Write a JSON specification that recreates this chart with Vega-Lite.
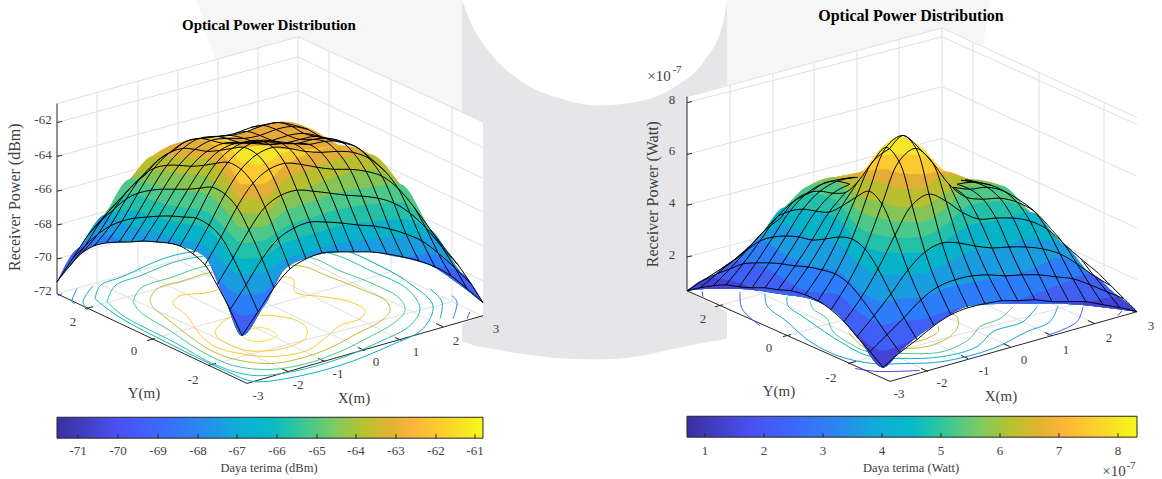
{"$schema":"https://vega.github.io/schema/vega-lite/v6.json","width":1162,"height":479,"autosize":{"type":"fit","contains":"padding"},"padding":0,"background":"white","config":{"view":{"stroke":null}},
"datasets":{
"meshL":[
{"i":0,"j":0,"x":242,"y":337},{"i":0,"j":1,"x":230,"y":311},{"i":0,"j":2,"x":217,"y":286},{"i":0,"j":3,"x":205,"y":266},{"i":0,"j":4,"x":193,"y":255},{"i":0,"j":5,"x":180,"y":247},{"i":0,"j":6,"x":168,"y":244},{"i":0,"j":7,"x":156,"y":243},{"i":0,"j":8,"x":143,"y":242},{"i":0,"j":9,"x":131,"y":243},{"i":0,"j":10,"x":119,"y":243},{"i":0,"j":11,"x":106,"y":244},{"i":0,"j":12,"x":94,"y":247},{"i":0,"j":13,"x":82,"y":254},{"i":0,"j":14,"x":69,"y":268},{"i":0,"j":15,"x":57,"y":283},
{"i":1,"j":0,"x":258,"y":313},{"i":1,"j":1,"x":246,"y":286},{"i":1,"j":2,"x":233,"y":259},{"i":1,"j":3,"x":221,"y":238},{"i":1,"j":4,"x":209,"y":226},{"i":1,"j":5,"x":196,"y":219},{"i":1,"j":6,"x":184,"y":218},{"i":1,"j":7,"x":172,"y":217},{"i":1,"j":8,"x":159,"y":217},{"i":1,"j":9,"x":147,"y":218},{"i":1,"j":10,"x":135,"y":219},{"i":1,"j":11,"x":122,"y":222},{"i":1,"j":12,"x":110,"y":227},{"i":1,"j":13,"x":98,"y":235},{"i":1,"j":14,"x":85,"y":247},{"i":1,"j":15,"x":73,"y":259},
{"i":2,"j":0,"x":274,"y":289},{"i":2,"j":1,"x":262,"y":260},{"i":2,"j":2,"x":249,"y":231},{"i":2,"j":3,"x":237,"y":208},{"i":2,"j":4,"x":225,"y":195},{"i":2,"j":5,"x":212,"y":188},{"i":2,"j":6,"x":200,"y":189},{"i":2,"j":7,"x":188,"y":190},{"i":2,"j":8,"x":175,"y":190},{"i":2,"j":9,"x":163,"y":190},{"i":2,"j":10,"x":151,"y":191},{"i":2,"j":11,"x":138,"y":194},{"i":2,"j":12,"x":126,"y":200},{"i":2,"j":13,"x":114,"y":210},{"i":2,"j":14,"x":101,"y":222},{"i":2,"j":15,"x":89,"y":235},
{"i":3,"j":0,"x":290,"y":270},{"i":3,"j":1,"x":278,"y":240},{"i":3,"j":2,"x":265,"y":208},{"i":3,"j":3,"x":253,"y":184},{"i":3,"j":4,"x":241,"y":170},{"i":3,"j":5,"x":228,"y":163},{"i":3,"j":6,"x":216,"y":164},{"i":3,"j":7,"x":204,"y":166},{"i":3,"j":8,"x":191,"y":167},{"i":3,"j":9,"x":179,"y":166},{"i":3,"j":10,"x":167,"y":166},{"i":3,"j":11,"x":154,"y":169},{"i":3,"j":12,"x":142,"y":177},{"i":3,"j":13,"x":130,"y":189},{"i":3,"j":14,"x":117,"y":203},{"i":3,"j":15,"x":105,"y":216},
{"i":4,"j":0,"x":306,"y":260},{"i":4,"j":1,"x":294,"y":229},{"i":4,"j":2,"x":281,"y":196},{"i":4,"j":3,"x":269,"y":170},{"i":4,"j":4,"x":257,"y":155},{"i":4,"j":5,"x":244,"y":148},{"i":4,"j":6,"x":232,"y":149},{"i":4,"j":7,"x":220,"y":151},{"i":4,"j":8,"x":207,"y":152},{"i":4,"j":9,"x":195,"y":150},{"i":4,"j":10,"x":183,"y":149},{"i":4,"j":11,"x":170,"y":153},{"i":4,"j":12,"x":158,"y":161},{"i":4,"j":13,"x":146,"y":175},
{"i":5,"j":0,"x":322,"y":254},{"i":5,"j":1,"x":310,"y":223},{"i":5,"j":2,"x":297,"y":191},{"i":5,"j":3,"x":285,"y":164},{"i":5,"j":4,"x":273,"y":148},{"i":5,"j":5,"x":260,"y":141},{"i":5,"j":6,"x":248,"y":142},{"i":5,"j":7,"x":236,"y":144},{"i":5,"j":8,"x":223,"y":144},{"i":5,"j":9,"x":211,"y":141},{"i":5,"j":10,"x":199,"y":139},{"i":5,"j":11,"x":186,"y":142},{"i":5,"j":12,"x":174,"y":151},
{"i":6,"j":0,"x":338,"y":253},{"i":6,"j":1,"x":326,"y":223},{"i":6,"j":2,"x":313,"y":192},{"i":6,"j":3,"x":301,"y":165},{"i":6,"j":4,"x":289,"y":149},{"i":6,"j":5,"x":276,"y":142},{"i":6,"j":6,"x":264,"y":142},{"i":6,"j":7,"x":252,"y":144},{"i":6,"j":8,"x":239,"y":143},{"i":6,"j":9,"x":227,"y":139},{"i":6,"j":10,"x":215,"y":137},{"i":6,"j":11,"x":202,"y":139},
{"i":7,"j":0,"x":354,"y":253},{"i":7,"j":1,"x":342,"y":224},{"i":7,"j":2,"x":330,"y":194},{"i":7,"j":3,"x":317,"y":168},{"i":7,"j":4,"x":305,"y":152},{"i":7,"j":5,"x":293,"y":144},{"i":7,"j":6,"x":281,"y":144},{"i":7,"j":7,"x":268,"y":145},{"i":7,"j":8,"x":256,"y":143},{"i":7,"j":9,"x":244,"y":139},{"i":7,"j":10,"x":231,"y":136},{"i":7,"j":11,"x":219,"y":137},
{"i":8,"j":0,"x":371,"y":253},{"i":8,"j":1,"x":358,"y":226},{"i":8,"j":2,"x":346,"y":196},{"i":8,"j":3,"x":334,"y":170},{"i":8,"j":4,"x":321,"y":153},{"i":8,"j":5,"x":309,"y":145},{"i":8,"j":6,"x":297,"y":144},{"i":8,"j":7,"x":284,"y":144},{"i":8,"j":8,"x":272,"y":141},{"i":8,"j":9,"x":260,"y":136},{"i":8,"j":10,"x":247,"y":132},{"i":8,"j":11,"x":235,"y":134},
{"i":9,"j":0,"x":387,"y":255},{"i":9,"j":1,"x":374,"y":227},{"i":9,"j":2,"x":362,"y":197},{"i":9,"j":3,"x":350,"y":170},{"i":9,"j":4,"x":337,"y":152},{"i":9,"j":5,"x":325,"y":142},{"i":9,"j":6,"x":313,"y":140},{"i":9,"j":7,"x":300,"y":140},{"i":9,"j":8,"x":288,"y":136},{"i":9,"j":9,"x":276,"y":130},{"i":9,"j":10,"x":263,"y":126},{"i":9,"j":11,"x":251,"y":128},
{"i":10,"j":0,"x":403,"y":258},{"i":10,"j":1,"x":390,"y":230},{"i":10,"j":2,"x":378,"y":199},{"i":10,"j":3,"x":366,"y":172},{"i":10,"j":4,"x":353,"y":153},{"i":10,"j":5,"x":341,"y":142},{"i":10,"j":6,"x":329,"y":139},{"i":10,"j":7,"x":316,"y":137},{"i":10,"j":8,"x":304,"y":134},{"i":10,"j":9,"x":292,"y":127},{"i":10,"j":10,"x":279,"y":123},{"i":10,"j":11,"x":267,"y":125},
{"i":11,"j":0,"x":419,"y":262},{"i":11,"j":1,"x":406,"y":235},{"i":11,"j":2,"x":394,"y":204},{"i":11,"j":3,"x":382,"y":177},{"i":11,"j":4,"x":369,"y":159},{"i":11,"j":5,"x":357,"y":148},{"i":11,"j":6,"x":345,"y":144},{"i":11,"j":7,"x":332,"y":141},{"i":11,"j":8,"x":320,"y":137},{"i":11,"j":9,"x":308,"y":130},{"i":11,"j":10,"x":295,"y":126},
{"i":12,"j":0,"x":435,"y":268},{"i":12,"j":1,"x":422,"y":242},{"i":12,"j":2,"x":410,"y":214},{"i":12,"j":3,"x":398,"y":189},{"i":12,"j":4,"x":385,"y":172},{"i":12,"j":5,"x":373,"y":161},
{"i":13,"j":0,"x":451,"y":277},{"i":13,"j":1,"x":438,"y":254},{"i":13,"j":2,"x":426,"y":229},{"i":13,"j":3,"x":414,"y":208},
{"i":14,"j":0,"x":467,"y":290},{"i":14,"j":1,"x":455,"y":269},{"i":14,"j":2,"x":442,"y":248},{"i":14,"j":3,"x":430,"y":230},
{"i":15,"j":0,"x":483,"y":304},{"i":15,"j":1,"x":471,"y":285},{"i":15,"j":2,"x":458,"y":266},{"i":15,"j":3,"x":446,"y":251}],
"meshR":[
{"i":0,"j":0,"x":883,"y":369},{"i":0,"j":1,"x":870,"y":353},{"i":0,"j":2,"x":857,"y":338},{"i":0,"j":3,"x":844,"y":323},{"i":0,"j":4,"x":831,"y":311},{"i":0,"j":5,"x":818,"y":302},{"i":0,"j":6,"x":805,"y":296},{"i":0,"j":7,"x":791,"y":292},{"i":0,"j":8,"x":778,"y":291},{"i":0,"j":9,"x":765,"y":289},{"i":0,"j":10,"x":752,"y":289},{"i":0,"j":11,"x":739,"y":288},{"i":0,"j":12,"x":726,"y":286},{"i":0,"j":13,"x":713,"y":287},{"i":0,"j":14,"x":700,"y":289},{"i":0,"j":15,"x":687,"y":292},
{"i":1,"j":0,"x":900,"y":354},{"i":1,"j":1,"x":887,"y":336},{"i":1,"j":2,"x":874,"y":317},{"i":1,"j":3,"x":861,"y":299},{"i":1,"j":4,"x":848,"y":284},{"i":1,"j":5,"x":835,"y":275},{"i":1,"j":6,"x":822,"y":271},{"i":1,"j":7,"x":808,"y":268},{"i":1,"j":8,"x":795,"y":267},{"i":1,"j":9,"x":782,"y":265},{"i":1,"j":10,"x":769,"y":264},{"i":1,"j":11,"x":756,"y":264},{"i":1,"j":12,"x":743,"y":265},{"i":1,"j":13,"x":730,"y":270},{"i":1,"j":14,"x":717,"y":275},{"i":1,"j":15,"x":704,"y":281},
{"i":2,"j":0,"x":917,"y":341},{"i":2,"j":1,"x":904,"y":319},{"i":2,"j":2,"x":891,"y":295},{"i":2,"j":3,"x":878,"y":270},{"i":2,"j":4,"x":865,"y":250},{"i":2,"j":5,"x":852,"y":240},{"i":2,"j":6,"x":839,"y":238},{"i":2,"j":7,"x":825,"y":240},{"i":2,"j":8,"x":812,"y":241},{"i":2,"j":9,"x":799,"y":238},{"i":2,"j":10,"x":786,"y":237},{"i":2,"j":11,"x":773,"y":238},{"i":2,"j":12,"x":760,"y":242},{"i":2,"j":13,"x":747,"y":251},{"i":2,"j":14,"x":734,"y":261},{"i":2,"j":15,"x":721,"y":270},
{"i":3,"j":0,"x":934,"y":327},{"i":3,"j":1,"x":921,"y":301},{"i":3,"j":2,"x":908,"y":271},{"i":3,"j":3,"x":895,"y":236},{"i":3,"j":4,"x":882,"y":205},{"i":3,"j":5,"x":869,"y":192},{"i":3,"j":6,"x":856,"y":198},{"i":3,"j":7,"x":842,"y":207},{"i":3,"j":8,"x":829,"y":213},{"i":3,"j":9,"x":816,"y":212},{"i":3,"j":10,"x":803,"y":210},{"i":3,"j":11,"x":790,"y":212},{"i":3,"j":12,"x":777,"y":218},{"i":3,"j":13,"x":764,"y":232},{"i":3,"j":14,"x":751,"y":246},{"i":3,"j":15,"x":738,"y":259},
{"i":4,"j":0,"x":951,"y":316},{"i":4,"j":1,"x":938,"y":288},{"i":4,"j":2,"x":925,"y":253},{"i":4,"j":3,"x":912,"y":206},{"i":4,"j":4,"x":899,"y":162},{"i":4,"j":5,"x":886,"y":148},{"i":4,"j":6,"x":873,"y":162},{"i":4,"j":7,"x":859,"y":181},{"i":4,"j":8,"x":846,"y":193},{"i":4,"j":9,"x":833,"y":194},{"i":4,"j":10,"x":820,"y":192},{"i":4,"j":11,"x":807,"y":194},{"i":4,"j":12,"x":794,"y":202},{"i":4,"j":13,"x":781,"y":219},
{"i":5,"j":0,"x":968,"y":309},{"i":5,"j":1,"x":955,"y":281},{"i":5,"j":2,"x":942,"y":244},{"i":5,"j":3,"x":929,"y":195},{"i":5,"j":4,"x":916,"y":149},{"i":5,"j":5,"x":903,"y":136},{"i":5,"j":6,"x":890,"y":149},{"i":5,"j":7,"x":null,"y":null},{"i":5,"j":8,"x":null,"y":null},{"i":5,"j":9,"x":850,"y":185},{"i":5,"j":10,"x":837,"y":182},{"i":5,"j":11,"x":824,"y":184},{"i":5,"j":12,"x":811,"y":193},
{"i":6,"j":0,"x":985,"y":305},{"i":6,"j":1,"x":972,"y":277},{"i":6,"j":2,"x":959,"y":244},{"i":6,"j":3,"x":946,"y":202},{"i":6,"j":4,"x":933,"y":164},{"i":6,"j":5,"x":920,"y":150},{"i":6,"j":6,"x":null,"y":null},{"i":6,"j":7,"x":null,"y":null},{"i":6,"j":8,"x":null,"y":null},{"i":6,"j":9,"x":null,"y":null},{"i":6,"j":10,"x":854,"y":178},{"i":6,"j":11,"x":841,"y":180},
{"i":7,"j":0,"x":1002,"y":302},{"i":7,"j":1,"x":988,"y":276},{"i":7,"j":2,"x":975,"y":247},{"i":7,"j":3,"x":962,"y":213},{"i":7,"j":4,"x":949,"y":185},{"i":7,"j":5,"x":null,"y":null},{"i":7,"j":6,"x":null,"y":null},{"i":7,"j":7,"x":null,"y":null},{"i":7,"j":8,"x":null,"y":null},{"i":7,"j":9,"x":null,"y":null},{"i":7,"j":10,"x":null,"y":null},{"i":7,"j":11,"x":858,"y":178},
{"i":8,"j":0,"x":1018,"y":302},{"i":8,"j":1,"x":1005,"y":277},{"i":8,"j":2,"x":992,"y":249},{"i":8,"j":3,"x":979,"y":220},{"i":8,"j":4,"x":966,"y":198},{"i":8,"j":5,"x":953,"y":188},{"i":8,"j":6,"x":null,"y":null},{"i":8,"j":7,"x":null,"y":null},{"i":8,"j":8,"x":null,"y":null},{"i":8,"j":9,"x":null,"y":null},
{"i":9,"j":0,"x":1035,"y":301},{"i":9,"j":1,"x":1022,"y":276},{"i":9,"j":2,"x":1009,"y":248},{"i":9,"j":3,"x":996,"y":219},{"i":9,"j":4,"x":983,"y":200},{"i":9,"j":5,"x":970,"y":190},{"i":9,"j":6,"x":957,"y":185},{"i":9,"j":7,"x":null,"y":null},{"i":9,"j":8,"x":null,"y":null},
{"i":10,"j":0,"x":1052,"y":303},{"i":10,"j":1,"x":1039,"y":276},{"i":10,"j":2,"x":1026,"y":248},{"i":10,"j":3,"x":1013,"y":219},{"i":10,"j":4,"x":1000,"y":199},{"i":10,"j":5,"x":987,"y":188},{"i":10,"j":6,"x":974,"y":183},{"i":10,"j":7,"x":961,"y":181},{"i":10,"j":8,"x":null,"y":null},
{"i":11,"j":0,"x":1069,"y":303},{"i":11,"j":1,"x":1056,"y":278},{"i":11,"j":2,"x":1043,"y":250},{"i":11,"j":3,"x":1030,"y":222},{"i":11,"j":4,"x":1017,"y":203},{"i":11,"j":5,"x":1004,"y":192},{"i":11,"j":6,"x":991,"y":186},{"i":11,"j":7,"x":978,"y":183},{"i":11,"j":8,"x":965,"y":180},
{"i":12,"j":0,"x":1086,"y":303},{"i":12,"j":1,"x":1073,"y":280},{"i":12,"j":2,"x":1060,"y":255},{"i":12,"j":3,"x":1047,"y":230},{"i":12,"j":4,"x":1034,"y":212},{"i":12,"j":5,"x":1021,"y":202},
{"i":13,"j":0,"x":1103,"y":306},{"i":13,"j":1,"x":1090,"y":286},{"i":13,"j":2,"x":1077,"y":265},{"i":13,"j":3,"x":1064,"y":245},{"i":13,"j":4,"x":1051,"y":230},
{"i":14,"j":0,"x":1120,"y":309},{"i":14,"j":1,"x":1107,"y":293},{"i":14,"j":2,"x":1094,"y":277},{"i":14,"j":3,"x":1081,"y":260},
{"i":15,"j":0,"x":1137,"y":313},{"i":15,"j":1,"x":1124,"y":300},{"i":15,"j":2,"x":1111,"y":287},{"i":15,"j":3,"x":1098,"y":274}],
"bandsL":[
{"x":57,"b":283,"t":283,"p":283,"A":283,"B":283,"C":283,"D":283,"E":283,"F":283,"G":283,"H":283,"I":283,"J":283,"K":283},
{"x":80,"b":255,"t":248,"p":248,"A":248,"B":248,"C":248,"D":248,"E":248,"F":248,"G":248,"H":248,"I":248,"J":248,"K":255},
{"x":105,"b":244,"t":215,"p":215,"A":215,"B":215,"C":215,"D":215,"E":215,"F":215,"G":215,"H":217,"I":236,"J":244,"K":244},
{"x":130,"b":243,"t":180,"p":180,"A":180,"B":180,"C":180,"D":180,"E":180,"F":194,"G":211,"H":227,"I":243,"J":243,"K":243},
{"x":155,"b":243,"t":155,"p":155,"A":155,"B":155,"C":156,"D":171,"E":186,"F":202,"G":218,"H":233,"I":243,"J":243,"K":243},
{"x":180,"b":247,"t":143,"p":143,"A":143,"B":143,"C":158,"D":174,"E":191,"F":208,"G":224,"H":241,"I":247,"J":247,"K":247},
{"x":205,"b":258,"t":139,"p":139,"A":139,"B":141,"C":159,"D":177,"E":194,"F":212,"G":229,"H":247,"I":258,"J":258,"K":258},
{"x":225,"b":300,"t":138,"p":140,"A":140,"B":158,"C":176,"D":193,"E":211,"F":229,"G":247,"H":265,"I":287,"J":300,"K":300},
{"x":242,"b":337,"t":134,"p":148,"A":163,"B":185,"C":200,"D":214,"E":229,"F":244,"G":260,"H":276,"I":296,"J":317,"K":337},
{"x":262,"b":310,"t":125,"p":146,"A":165,"B":185,"C":200,"D":214,"E":228,"F":242,"G":258,"H":274,"I":294,"J":310,"K":310},
{"x":285,"b":270,"t":122,"p":150,"A":153,"B":166,"C":180,"D":196,"E":212,"F":228,"G":244,"H":260,"I":270,"J":270,"K":270},
{"x":310,"b":258,"t":129,"p":150,"A":150,"B":154,"C":170,"D":187,"E":203,"F":219,"G":236,"H":252,"I":258,"J":258,"K":258},
{"x":340,"b":253,"t":146,"p":146,"A":146,"B":146,"C":159,"D":176,"E":193,"F":210,"G":227,"H":244,"I":253,"J":253,"K":253},
{"x":370,"b":253,"t":155,"p":155,"A":155,"B":155,"C":155,"D":170,"E":188,"F":205,"G":223,"H":240,"I":253,"J":253,"K":253},
{"x":400,"b":258,"t":185,"p":185,"A":185,"B":185,"C":185,"D":185,"E":185,"F":203,"G":220,"H":238,"I":258,"J":258,"K":258},
{"x":430,"b":266,"t":230,"p":230,"A":230,"B":230,"C":230,"D":230,"E":230,"F":230,"G":230,"H":237,"I":255,"J":266,"K":266},
{"x":460,"b":286,"t":273,"p":273,"A":273,"B":273,"C":273,"D":273,"E":273,"F":273,"G":273,"H":273,"I":273,"J":273,"K":286},
{"x":483,"b":304,"t":304,"p":304,"A":304,"B":304,"C":304,"D":304,"E":304,"F":304,"G":304,"H":304,"I":304,"J":304,"K":304}],
"bandsR":[
{"x":687,"b":292,"t":292,"p":292,"A":292,"B":292,"C":292,"D":292,"E":292,"F":292,"G":292,"H":292,"I":292,"J":292,"K":292},
{"x":710,"b":290,"t":279,"p":279,"A":279,"B":279,"C":279,"D":279,"E":279,"F":279,"G":279,"H":279,"I":279,"J":279,"K":279},
{"x":735,"b":290,"t":262,"p":262,"A":262,"B":262,"C":262,"D":262,"E":262,"F":262,"G":262,"H":262,"I":262,"J":262,"K":283},
{"x":760,"b":292,"t":237,"p":237,"A":237,"B":237,"C":237,"D":237,"E":237,"F":237,"G":237,"H":237,"I":241,"J":266,"K":292},
{"x":785,"b":296,"t":208,"p":208,"A":208,"B":208,"C":208,"D":208,"E":208,"F":208,"G":208,"H":226,"I":256,"J":281,"K":296},
{"x":810,"b":300,"t":186,"p":186,"A":186,"B":186,"C":186,"D":186,"E":186,"F":194,"G":212,"H":238,"I":267,"J":293,"K":300},
{"x":835,"b":313,"t":178,"p":178,"A":178,"B":178,"C":178,"D":178,"E":183,"F":201,"G":218,"H":243,"I":271,"J":295,"K":313},
{"x":860,"b":342,"t":173,"p":173,"A":173,"B":173,"C":178,"D":197,"E":213,"F":229,"G":244,"H":266,"I":292,"J":314,"K":339},
{"x":883,"b":369,"t":147,"p":147,"A":156,"B":170,"C":184,"D":203,"E":220,"F":237,"G":253,"H":276,"I":303,"J":326,"K":352},
{"x":900,"b":353,"t":137,"p":137,"A":155,"B":174,"C":189,"D":208,"E":223,"F":239,"G":254,"H":276,"I":300,"J":322,"K":347},
{"x":920,"b":336,"t":147,"p":147,"A":156,"B":175,"C":190,"D":208,"E":223,"F":238,"G":254,"H":275,"I":299,"J":321,"K":336},
{"x":945,"b":319,"t":172,"p":172,"A":172,"B":172,"C":175,"D":194,"E":210,"F":226,"G":242,"H":265,"I":290,"J":313,"K":319},
{"x":970,"b":307,"t":180,"p":180,"A":180,"B":180,"C":180,"D":180,"E":187,"F":206,"G":226,"H":253,"I":284,"J":307,"K":307},
{"x":1000,"b":305,"t":186,"p":186,"A":186,"B":186,"C":186,"D":186,"E":186,"F":202,"G":221,"H":248,"I":278,"J":305,"K":305},
{"x":1030,"b":305,"t":213,"p":213,"A":213,"B":213,"C":213,"D":213,"E":213,"F":213,"G":213,"H":240,"I":271,"J":297,"K":305},
{"x":1060,"b":305,"t":243,"p":243,"A":243,"B":243,"C":243,"D":243,"E":243,"F":243,"G":243,"H":243,"I":259,"J":286,"K":305},
{"x":1090,"b":307,"t":275,"p":275,"A":275,"B":275,"C":275,"D":275,"E":275,"F":275,"G":275,"H":275,"I":275,"J":275,"K":303},
{"x":1115,"b":310,"t":295,"p":295,"A":295,"B":295,"C":295,"D":295,"E":295,"F":295,"G":295,"H":295,"I":295,"J":295,"K":298},
{"x":1137,"b":313,"t":313,"p":313,"A":313,"B":313,"C":313,"D":313,"E":313,"F":313,"G":313,"H":313,"I":313,"J":313,"K":313}],
"contours":[
{"c":1,"k":"p","x":242,"y":337},{"c":1,"k":"p","x":250,"y":331},{"c":1,"k":"p","x":262,"y":329},{"c":1,"k":"p","x":273,"y":333},{"c":1,"k":"p","x":277,"y":337},{"c":1,"k":"p","x":270,"y":341},{"c":1,"k":"p","x":257,"y":343},{"c":1,"k":"p","x":247,"y":341},{"c":1,"k":"p","x":242,"y":337},
{"c":2,"k":"A","x":215,"y":332},{"c":2,"k":"A","x":227,"y":320},{"c":2,"k":"A","x":253,"y":317},{"c":2,"k":"A","x":273,"y":317},{"c":2,"k":"A","x":297,"y":322},{"c":2,"k":"A","x":307,"y":330},{"c":2,"k":"A","x":305,"y":340},{"c":2,"k":"A","x":290,"y":348},{"c":2,"k":"A","x":270,"y":352},{"c":2,"k":"A","x":247,"y":352},{"c":2,"k":"A","x":227,"y":345},{"c":2,"k":"A","x":217,"y":338},{"c":2,"k":"A","x":215,"y":332},
{"c":3,"k":"A","x":175,"y":308},{"c":3,"k":"A","x":173,"y":303},{"c":3,"k":"A","x":180,"y":297},{"c":3,"k":"A","x":207,"y":294},{"c":3,"k":"A","x":240,"y":285},{"c":3,"k":"A","x":293,"y":280},{"c":3,"k":"A","x":295,"y":293},{"c":3,"k":"A","x":323,"y":298},{"c":3,"k":"A","x":350,"y":303},{"c":3,"k":"A","x":365,"y":312},{"c":3,"k":"A","x":360,"y":320},{"c":3,"k":"A","x":340,"y":327},{"c":3,"k":"A","x":327,"y":338},{"c":3,"k":"A","x":307,"y":352},{"c":3,"k":"A","x":273,"y":358},{"c":3,"k":"A","x":240,"y":355},{"c":3,"k":"A","x":213,"y":347},{"c":3,"k":"A","x":197,"y":332},{"c":3,"k":"A","x":187,"y":317},{"c":3,"k":"A","x":175,"y":308},
{"c":4,"k":"C","x":150,"y":300},{"c":4,"k":"C","x":157,"y":290},{"c":4,"k":"C","x":183,"y":282},{"c":4,"k":"C","x":213,"y":273},{"c":4,"k":"C","x":300,"y":267},{"c":4,"k":"C","x":327,"y":277},{"c":4,"k":"C","x":360,"y":290},{"c":4,"k":"C","x":387,"y":303},{"c":4,"k":"C","x":390,"y":312},{"c":4,"k":"C","x":380,"y":323},{"c":4,"k":"C","x":357,"y":335},{"c":4,"k":"C","x":333,"y":348},{"c":4,"k":"C","x":307,"y":358},{"c":4,"k":"C","x":273,"y":365},{"c":4,"k":"C","x":240,"y":362},{"c":4,"k":"C","x":213,"y":353},{"c":4,"k":"C","x":190,"y":338},{"c":4,"k":"C","x":167,"y":320},{"c":4,"k":"C","x":152,"y":307},{"c":4,"k":"C","x":150,"y":300},
{"c":5,"k":"E","x":133,"y":303},{"c":5,"k":"E","x":140,"y":290},{"c":5,"k":"E","x":173,"y":278},{"c":5,"k":"E","x":207,"y":267},{"c":5,"k":"E","x":307,"y":258},{"c":5,"k":"E","x":340,"y":272},{"c":5,"k":"E","x":373,"y":285},{"c":5,"k":"E","x":400,"y":300},{"c":5,"k":"E","x":405,"y":312},{"c":5,"k":"E","x":393,"y":325},{"c":5,"k":"E","x":370,"y":338},{"c":5,"k":"E","x":340,"y":353},{"c":5,"k":"E","x":307,"y":365},{"c":5,"k":"E","x":270,"y":371},{"c":5,"k":"E","x":233,"y":367},{"c":5,"k":"E","x":200,"y":352},{"c":5,"k":"E","x":170,"y":332},{"c":5,"k":"E","x":140,"y":313},{"c":5,"k":"E","x":133,"y":303},
{"c":6,"k":"F","x":107,"y":303},{"c":6,"k":"F","x":115,"y":287},{"c":6,"k":"F","x":140,"y":277},{"c":6,"k":"F","x":187,"y":260},{"c":6,"k":"F","x":323,"y":253},{"c":6,"k":"F","x":373,"y":273},{"c":6,"k":"F","x":407,"y":290},{"c":6,"k":"F","x":420,"y":310},{"c":6,"k":"F","x":410,"y":327},{"c":6,"k":"F","x":380,"y":343},{"c":6,"k":"F","x":340,"y":360},{"c":6,"k":"F","x":293,"y":373},{"c":6,"k":"F","x":253,"y":377},{"c":6,"k":"F","x":217,"y":367},{"c":6,"k":"F","x":173,"y":343},{"c":6,"k":"F","x":123,"y":317},{"c":6,"k":"F","x":107,"y":303},
{"c":7,"k":"G","x":95,"y":300},{"c":7,"k":"G","x":100,"y":287},{"c":7,"k":"G","x":122,"y":278},{"c":7,"k":"G","x":180,"y":255},{"c":7,"k":"G","x":330,"y":248},{"c":7,"k":"G","x":380,"y":267},{"c":7,"k":"G","x":413,"y":287},{"c":7,"k":"G","x":433,"y":307},{"c":7,"k":"G","x":423,"y":330},{"c":7,"k":"G","x":390,"y":347},{"c":7,"k":"G","x":340,"y":367},{"c":7,"k":"G","x":287,"y":380},{"c":7,"k":"G","x":253,"y":383},{"c":7,"k":"G","x":227,"y":373},{"c":7,"k":"G","x":173,"y":347},{"c":7,"k":"G","x":117,"y":317},{"c":7,"k":"G","x":95,"y":300},
{"c":8,"k":"H","x":88,"y":312},{"c":8,"k":"H","x":83,"y":303},{"c":8,"k":"H","x":93,"y":287},
{"c":9,"k":"H","x":430,"y":290},{"c":9,"k":"H","x":442,"y":303},{"c":9,"k":"H","x":440,"y":320},
{"c":10,"k":"I","x":75,"y":305},{"c":10,"k":"I","x":72,"y":303},{"c":10,"k":"I","x":77,"y":290},
{"c":11,"k":"I","x":452,"y":297},{"c":11,"k":"I","x":457,"y":303},{"c":11,"k":"I","x":453,"y":320},
{"c":12,"k":"J","x":58,"y":297},{"c":12,"k":"J","x":62,"y":295},
{"c":13,"k":"J","x":467,"y":320},{"c":13,"k":"J","x":470,"y":313},
{"c":21,"k":"B","x":908,"y":345},{"c":21,"k":"B","x":927,"y":340},{"c":21,"k":"B","x":938,"y":333},{"c":21,"k":"B","x":938,"y":327},
{"c":22,"k":"C","x":848,"y":333},{"c":22,"k":"C","x":857,"y":343},{"c":22,"k":"C","x":867,"y":350},{"c":22,"k":"C","x":905,"y":350},{"c":22,"k":"C","x":927,"y":348},{"c":22,"k":"C","x":947,"y":340},{"c":22,"k":"C","x":958,"y":328},{"c":22,"k":"C","x":957,"y":318},{"c":22,"k":"C","x":950,"y":315},
{"c":23,"k":"E","x":810,"y":302},{"c":23,"k":"E","x":813,"y":310},{"c":23,"k":"E","x":827,"y":320},{"c":23,"k":"E","x":833,"y":333},{"c":23,"k":"E","x":850,"y":345},{"c":23,"k":"E","x":867,"y":353},{"c":23,"k":"E","x":903,"y":355},{"c":23,"k":"E","x":943,"y":353},{"c":23,"k":"E","x":970,"y":340},{"c":23,"k":"E","x":980,"y":328},{"c":23,"k":"E","x":1000,"y":320},{"c":23,"k":"E","x":1013,"y":308},
{"c":24,"k":"G","x":787,"y":298},{"c":24,"k":"G","x":788,"y":307},{"c":24,"k":"G","x":803,"y":318},{"c":24,"k":"G","x":820,"y":330},{"c":24,"k":"G","x":840,"y":343},{"c":24,"k":"G","x":867,"y":357},{"c":24,"k":"G","x":900,"y":360},{"c":24,"k":"G","x":943,"y":358},{"c":24,"k":"G","x":977,"y":348},{"c":24,"k":"G","x":993,"y":333},{"c":24,"k":"G","x":1023,"y":323},{"c":24,"k":"G","x":1037,"y":308},
{"c":25,"k":"H","x":765,"y":295},{"c":25,"k":"H","x":767,"y":307},{"c":25,"k":"H","x":787,"y":323},{"c":25,"k":"H","x":810,"y":343},{"c":25,"k":"H","x":840,"y":358},{"c":25,"k":"H","x":873,"y":365},{"c":25,"k":"H","x":907,"y":365},{"c":25,"k":"H","x":943,"y":363},{"c":25,"k":"H","x":993,"y":350},{"c":25,"k":"H","x":1027,"y":333},{"c":25,"k":"H","x":1050,"y":323},{"c":25,"k":"H","x":1058,"y":307},
{"c":26,"k":"J","x":740,"y":293},{"c":26,"k":"J","x":742,"y":310},{"c":26,"k":"J","x":760,"y":327},
{"c":27,"k":"J","x":1047,"y":337},{"c":27,"k":"J","x":1077,"y":323},{"c":27,"k":"J","x":1083,"y":308},
{"c":28,"k":"K","x":855,"y":370},{"c":28,"k":"K","x":877,"y":373},{"c":28,"k":"K","x":920,"y":372},
{"c":29,"k":"K","x":702,"y":293},{"c":29,"k":"K","x":703,"y":298},
{"c":30,"k":"K","x":1118,"y":317},{"c":30,"k":"K","x":1122,"y":312}],
"grid":[
{"x":97,"y":93,"x2":97,"y2":284},{"x":138,"y":81,"x2":138,"y2":272},{"x":178,"y":70,"x2":178,"y2":261},{"x":218,"y":59,"x2":218,"y2":250},{"x":258,"y":48,"x2":258,"y2":238},{"x":298,"y":37,"x2":298,"y2":227},
{"x":329,"y":51,"x2":329,"y2":242},{"x":391,"y":80,"x2":391,"y2":273},{"x":452,"y":108,"x2":452,"y2":303},
{"x":57,"y":104,"x2":298,"y2":37},{"x":298,"y":37,"x2":483,"y2":122},
{"x":57,"y":123,"x2":298,"y2":57},{"x":57,"y":157,"x2":298,"y2":91},{"x":57,"y":192,"x2":298,"y2":125},{"x":57,"y":226,"x2":298,"y2":159},{"x":57,"y":260,"x2":298,"y2":193},{"x":57,"y":295,"x2":298,"y2":227},
{"x":298,"y":57,"x2":483,"y2":148},{"x":298,"y":91,"x2":483,"y2":179},{"x":298,"y":125,"x2":483,"y2":213},{"x":298,"y":159,"x2":483,"y2":247},{"x":298,"y":193,"x2":483,"y2":282},{"x":298,"y":227,"x2":483,"y2":318},
{"x":97,"y":284,"x2":288,"y2":373},{"x":138,"y":272,"x2":325,"y2":363},{"x":178,"y":261,"x2":365,"y2":352},{"x":218,"y":250,"x2":402,"y2":342},{"x":258,"y":238,"x2":443,"y2":328},
{"x":208,"y":367,"x2":452,"y2":303},{"x":147,"y":342,"x2":391,"y2":273},{"x":85,"y":310,"x2":329,"y2":242},
{"x":730,"y":85,"x2":730,"y2":280},{"x":773,"y":74,"x2":773,"y2":268},{"x":814,"y":63,"x2":814,"y2":257},{"x":857,"y":51,"x2":857,"y2":245},{"x":899,"y":40,"x2":899,"y2":234},{"x":942,"y":28,"x2":942,"y2":222},
{"x":973,"y":42,"x2":973,"y2":236},{"x":1039,"y":72,"x2":1039,"y2":267},{"x":1104,"y":103,"x2":1104,"y2":298},
{"x":687,"y":97,"x2":942,"y2":28},{"x":942,"y":28,"x2":1137,"y2":118},
{"x":687,"y":103,"x2":942,"y2":37},{"x":687,"y":155,"x2":942,"y2":87},{"x":687,"y":206,"x2":942,"y2":139},{"x":687,"y":258,"x2":942,"y2":190},{"x":687,"y":292,"x2":942,"y2":222},
{"x":942,"y":37,"x2":1137,"y2":125},{"x":942,"y":87,"x2":1137,"y2":177},{"x":942,"y":139,"x2":1137,"y2":229},{"x":942,"y":190,"x2":1137,"y2":281},{"x":942,"y":222,"x2":1137,"y2":313},
{"x":730,"y":280,"x2":928,"y2":373},{"x":773,"y":268,"x2":968,"y2":360},{"x":814,"y":257,"x2":1010,"y2":348},{"x":857,"y":245,"x2":1052,"y2":337},{"x":899,"y":234,"x2":1095,"y2":325},
{"x":848,"y":365,"x2":1104,"y2":298},{"x":783,"y":338,"x2":1039,"y2":267},{"x":715,"y":308,"x2":973,"y2":236}],
"axes":[
{"x":57,"y":104,"x2":57,"y2":295},{"x":57,"y":295,"x2":247,"y2":385},{"x":247,"y":385,"x2":483,"y2":317},
{"x":687,"y":97,"x2":687,"y2":292},{"x":687,"y":292,"x2":890,"y2":383},{"x":890,"y":383,"x2":1137,"y2":313},
{"x":57,"y":123,"x2":62,"y2":122},{"x":57,"y":157,"x2":62,"y2":156},{"x":57,"y":192,"x2":62,"y2":191},{"x":57,"y":226,"x2":62,"y2":225},{"x":57,"y":260,"x2":62,"y2":259},
{"x":687,"y":103,"x2":692,"y2":102},{"x":687,"y":155,"x2":692,"y2":154},{"x":687,"y":206,"x2":692,"y2":205},{"x":687,"y":258,"x2":692,"y2":257},
{"x":288,"y":373,"x2":281,"y2":370},{"x":325,"y":363,"x2":318,"y2":360},{"x":365,"y":352,"x2":358,"y2":349},{"x":402,"y":342,"x2":395,"y2":339},{"x":443,"y":328,"x2":436,"y2":325},
{"x":208,"y":367,"x2":216,"y2":365},{"x":147,"y":342,"x2":155,"y2":340},{"x":85,"y":310,"x2":93,"y2":308},
{"x":928,"y":373,"x2":921,"y2":370},{"x":968,"y":360,"x2":961,"y2":357},{"x":1010,"y":348,"x2":1003,"y2":345},{"x":1052,"y":337,"x2":1045,"y2":334},{"x":1095,"y":325,"x2":1088,"y2":322},
{"x":848,"y":365,"x2":856,"y2":363},{"x":783,"y":338,"x2":791,"y2":336},{"x":715,"y":308,"x2":723,"y2":306},
{"x":78,"y":440,"x2":78,"y2":436},{"x":118,"y":440,"x2":118,"y2":436},{"x":158,"y":440,"x2":158,"y2":436},{"x":198,"y":440,"x2":198,"y2":436},{"x":237,"y":440,"x2":237,"y2":436},{"x":277,"y":440,"x2":277,"y2":436},{"x":317,"y":440,"x2":317,"y2":436},{"x":356,"y":440,"x2":356,"y2":436},{"x":396,"y":440,"x2":396,"y2":436},{"x":436,"y":440,"x2":436,"y2":436},{"x":475,"y":440,"x2":475,"y2":436},
{"x":705,"y":439,"x2":705,"y2":435},{"x":764,"y":439,"x2":764,"y2":435},{"x":823,"y":439,"x2":823,"y2":435},{"x":882,"y":439,"x2":882,"y2":435},{"x":941,"y":439,"x2":941,"y2":435},{"x":1000,"y":439,"x2":1000,"y2":435},{"x":1059,"y":439,"x2":1059,"y2":435},{"x":1118,"y":439,"x2":1118,"y2":435}],
"ticks":[
{"x":43,"y":121,"t":"-62"},{"x":43,"y":156,"t":"-64"},{"x":43,"y":190,"t":"-66"},{"x":43,"y":225,"t":"-68"},{"x":43,"y":258,"t":"-70"},{"x":43,"y":292,"t":"-72"},
{"x":258,"y":398,"t":"-3"},{"x":298,"y":387,"t":"-2"},{"x":338,"y":376,"t":"-1"},{"x":376,"y":364,"t":"0"},{"x":416,"y":353,"t":"1"},{"x":456,"y":342,"t":"2"},{"x":496,"y":330,"t":"3"},
{"x":73,"y":323,"t":"2"},{"x":134,"y":352,"t":"0"},{"x":193,"y":382,"t":"-2"},
{"x":672,"y":100,"t":"8"},{"x":672,"y":152,"t":"6"},{"x":672,"y":204,"t":"4"},{"x":672,"y":256,"t":"2"},
{"x":899,"y":396,"t":"-3"},{"x":942,"y":385,"t":"-2"},{"x":984,"y":373,"t":"-1"},{"x":1024,"y":362,"t":"0"},{"x":1066,"y":351,"t":"1"},{"x":1109,"y":339,"t":"2"},{"x":1151,"y":327,"t":"3"},
{"x":703,"y":320,"t":"2"},{"x":769,"y":349,"t":"0"},{"x":831,"y":380,"t":"-2"},
{"x":78,"y":453,"t":"-71"},{"x":118,"y":453,"t":"-70"},{"x":158,"y":453,"t":"-69"},{"x":198,"y":453,"t":"-68"},{"x":237,"y":453,"t":"-67"},{"x":277,"y":453,"t":"-66"},{"x":317,"y":453,"t":"-65"},{"x":356,"y":453,"t":"-64"},{"x":396,"y":453,"t":"-63"},{"x":436,"y":453,"t":"-62"},{"x":475,"y":453,"t":"-61"},
{"x":705,"y":453,"t":"1"},{"x":764,"y":453,"t":"2"},{"x":823,"y":453,"t":"3"},{"x":882,"y":453,"t":"4"},{"x":941,"y":453,"t":"5"},{"x":1000,"y":453,"t":"6"},{"x":1059,"y":453,"t":"7"},{"x":1118,"y":453,"t":"8"}]
},
"encoding":{"x":{"field":"x","type":"quantitative","scale":{"domain":[0,1162],"nice":false,"zero":false},"axis":null},"y":{"field":"y","type":"quantitative","scale":{"domain":[479,0],"nice":false,"zero":false},"axis":null}},
"layer":[
{"data":{"values":[{"s":1,"x":197,"y":0,"b":0},{"s":1,"x":215,"y":0,"b":60},{"s":1,"x":298,"y":0,"b":37},{"s":1,"x":462,"y":0,"b":113},{"s":2,"x":727,"y":0,"b":85},{"s":2,"x":942,"y":0,"b":28},{"s":2,"x":983,"y":0,"b":45},{"s":2,"x":990,"y":0,"b":0}]},"mark":{"type":"area","color":"#f6f6f7"},"encoding":{"y2":{"field":"b"},"detail":{"field":"s"}}},
{"data":{"values":[{"x":462,"y":0,"b":343},{"x":471,"y":23,"b":346},{"x":490,"y":53,"b":350},{"x":519,"y":80,"b":355},{"x":564,"y":100,"b":360},{"x":597,"y":106,"b":361},{"x":638,"y":102,"b":358},{"x":675,"y":87,"b":350},{"x":705,"y":60,"b":344},{"x":723,"y":23,"b":341},{"x":727,"y":0,"b":340}]},"mark":{"type":"area","color":"#e6e6e8","interpolate":"monotone"},"encoding":{"y2":{"field":"b"}}},
{"data":{"values":[{"s":1,"x":462,"y":113,"b":325},{"s":1,"x":483,"y":123,"b":317},{"s":2,"x":687,"y":97,"b":292},{"s":2,"x":727,"y":85,"b":313}]},"mark":{"type":"area","color":"#ffffff"},"encoding":{"y2":{"field":"b"},"detail":{"field":"s"}}},
{"data":{"name":"grid"},"mark":{"type":"rule","color":"#dfdfdf","strokeWidth":1},"encoding":{"x2":{"field":"x2"},"y2":{"field":"y2"}}},
{"data":{"name":"axes"},"mark":{"type":"rule","color":"#262626","strokeWidth":1},"encoding":{"x2":{"field":"x2"},"y2":{"field":"y2"}}},
{"data":{"name":"contours"},"mark":{"type":"line","order":false,"strokeWidth":1,"interpolate":"catmull-rom"},"encoding":{"detail":{"field":"c"},"color":{"field":"k","type":"nominal","legend":null,"scale":{"domain":["t","p","A","B","C","D","E","F","G","H","I","J","K"],"range":["#e6a93a","#f5e62a","#fdc930","#e3ae37","#b9be2f","#85c455","#4bc88a","#22bfa9","#07b3c9","#1a9de0","#2c7dfa","#3f5ff5","#4343d8"]}}}},
{"data":{"name":"bandsL"},"transform":[{"fold":["t","p","A","B","C","D","E","F","G","H","I","J","K"],"as":["k","y"]}],"mark":{"type":"area","interpolate":"monotone"},"encoding":{"y":{"field":"y","type":"quantitative","stack":null,"scale":{"domain":[479,0],"nice":false,"zero":false},"axis":null},"y2":{"field":"b"},"color":{"field":"k","type":"nominal","legend":null}}},
{"data":{"name":"bandsR"},"transform":[{"fold":["t","p","A","B","C","D","E","F","G","H","I","J","K"],"as":["k","y"]}],"mark":{"type":"area","interpolate":"monotone"},"encoding":{"y":{"field":"y","type":"quantitative","stack":null,"scale":{"domain":[479,0],"nice":false,"zero":false},"axis":null},"y2":{"field":"b"},"color":{"field":"k","type":"nominal","legend":null}}},
{"data":{"name":"meshL"},"mark":{"type":"line","order":false,"color":"#000000","strokeWidth":1,"interpolate":"catmull-rom"},"encoding":{"detail":{"field":"i"}}},
{"data":{"name":"meshL"},"mark":{"type":"line","order":false,"color":"#000000","strokeWidth":1,"interpolate":"catmull-rom"},"encoding":{"detail":{"field":"j"}}},
{"data":{"name":"meshR"},"mark":{"type":"line","order":false,"color":"#000000","strokeWidth":1,"interpolate":"catmull-rom"},"encoding":{"detail":{"field":"i"}}},
{"data":{"name":"meshR"},"mark":{"type":"line","order":false,"color":"#000000","strokeWidth":1,"interpolate":"catmull-rom"},"encoding":{"detail":{"field":"j"}}},
{"data":{"values":[{"x":57,"x2":483,"y":419,"y2":440},{"x":687,"x2":1137,"y":418,"y2":439}]},"mark":{"type":"rect","stroke":"#262626","strokeWidth":1,"fill":{"x1":0,"y1":0,"x2":1,"y2":0,"gradient":"linear","stops":[{"offset":0,"color":"#3b2f9e"},{"offset":0.14,"color":"#4a50f0"},{"offset":0.25,"color":"#3a6cfb"},{"offset":0.33,"color":"#2c85f2"},{"offset":0.42,"color":"#10acd8"},{"offset":0.5,"color":"#06bac8"},{"offset":0.56,"color":"#2bc6a0"},{"offset":0.65,"color":"#7ccb62"},{"offset":0.72,"color":"#b8c22e"},{"offset":0.78,"color":"#dfb32f"},{"offset":0.83,"color":"#fbb43a"},{"offset":0.9,"color":"#fdcc2e"},{"offset":1,"color":"#f5f81a"}]}},"encoding":{"x2":{"field":"x2"},"y2":{"field":"y2"}}},
{"data":{"name":"axes"},"transform":[{"filter":"datum.y>430"}],"mark":{"type":"rule","color":"#262626","strokeWidth":1},"encoding":{"x2":{"field":"x2"},"y2":{"field":"y2"}}},
{"data":{"name":"ticks"},"mark":{"type":"text","font":"Liberation Serif","fontSize":13,"color":"#404040","align":"center","baseline":"middle"},"encoding":{"text":{"field":"t"}}},
{"data":{"values":[{"x":659,"y":76,"t":"×10"},{"x":1114,"y":473,"t":"×10"}]},"mark":{"type":"text","font":"Liberation Serif","fontSize":15,"color":"#404040","align":"center","baseline":"middle"},"encoding":{"text":{"field":"t"}}},
{"data":{"values":[{"x":677,"y":70,"t":"-7"},{"x":1131,"y":468,"t":"-7"}]},"mark":{"type":"text","font":"Liberation Serif","fontSize":11,"color":"#404040","align":"center","baseline":"middle"},"encoding":{"text":{"field":"t"}}},
{"data":{"values":[{"x":269,"y":25,"t":"Optical Power Distribution"}]},"mark":{"type":"text","font":"Liberation Serif","fontSize":15,"fontWeight":"bold","color":"#000000","align":"center","baseline":"middle"},"encoding":{"text":{"field":"t"}}},
{"data":{"values":[{"x":911,"y":16,"t":"Optical Power Distribution"}]},"mark":{"type":"text","font":"Liberation Serif","fontSize":16,"fontWeight":"bold","color":"#000000","align":"center","baseline":"middle"},"encoding":{"text":{"field":"t"}}},
{"data":{"values":[{"x":354,"y":400,"t":"X(m)"},{"x":144,"y":395,"t":"Y(m)"},{"x":1001,"y":398,"t":"X(m)"},{"x":779,"y":393,"t":"Y(m)"}]},"mark":{"type":"text","font":"Liberation Serif","fontSize":15,"color":"#404040","align":"center","baseline":"middle"},"encoding":{"text":{"field":"t"}}},
{"data":{"values":[{"x":15,"y":198,"t":"Receiver Power (dBm)"},{"x":653,"y":195,"t":"Receiver Power (Watt)"}]},"mark":{"type":"text","font":"Liberation Serif","fontSize":16,"color":"#404040","align":"center","baseline":"middle","angle":270},"encoding":{"text":{"field":"t"}}},
{"data":{"values":[{"x":269,"y":470,"t":"Daya terima (dBm)"},{"x":911,"y":470,"t":"Daya terima (Watt)"}]},"mark":{"type":"text","font":"Liberation Serif","fontSize":12.5,"color":"#404040","align":"center","baseline":"middle"},"encoding":{"text":{"field":"t"}}}
]}
